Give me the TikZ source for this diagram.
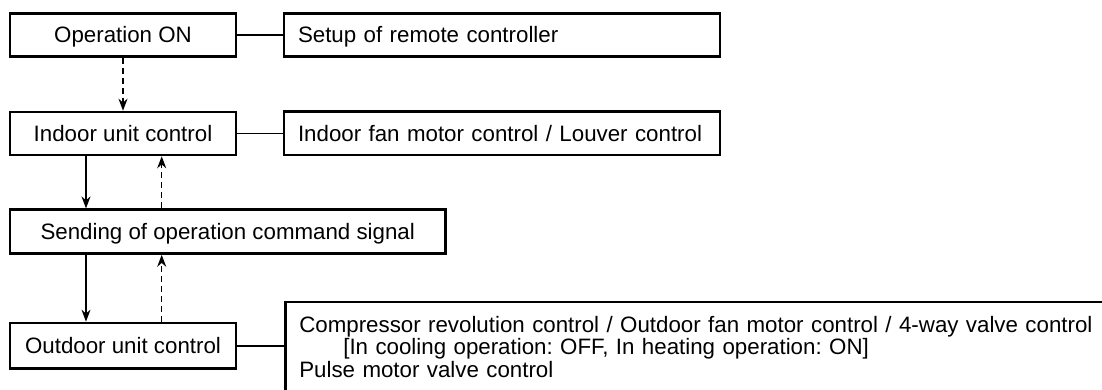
\documentclass[tikz,border=0pt]{standalone}
\usepackage{fontspec}
\setmainfont{Liberation Sans}
\usetikzlibrary{arrows.meta,calc,positioning}
\frenchspacing

\begin{document}
\begin{tikzpicture}[x=1pt,y=-1pt,font=\fontsize{22.3}{22.5}\selectfont,
    >={Stealth[length=12pt,width=9pt]},
    box/.style={draw,line width=2.6pt,text height=16pt,text depth=0pt,inner sep=0pt},
    wide/.style={box,align=left,inner xsep=14pt,text width=408pt,minimum height=43.4pt},
    link/.style={line width=1.5pt},
    flow/.style={->,line width=1.5pt},
    dashline/.style={dash pattern=on 6pt off 4pt}]
  \useasboundingbox (0,0) rectangle (1102,390);
  \node[box,minimum width=226pt,minimum height=43.4pt] (op) at (123,35) {Operation ON};
  \node[wide] (remote) at (502,35) {Setup of remote controller};
  \node[box,minimum width=226pt,minimum height=43pt] (indoor) at (123,133.5) {Indoor unit control};
  \node[wide] (fan) at (502,133.5) {Indoor fan motor control / Louver control};
  \node[box,minimum width=435.3pt,minimum height=43.8pt] (send) at (227.7,231.6) {Sending of operation command signal};
  \node[box,minimum width=226pt,minimum height=45.7pt] (outdoor) at (123,345.8) {Outdoor unit control};
  \node[draw,line width=2.6pt,anchor=north west,align=left,inner xsep=14pt,inner ysep=14pt,text width=820pt] (big) at (284,300.7)
    {Compressor revolution control / Outdoor fan motor control / 4-way valve control\\
     \hspace*{44pt}[In cooling operation: OFF, In heating operation: ON]\\
     Pulse motor valve control};
  \draw[link] (op) -- (remote);
  \draw[link] (indoor) -- (fan);
  \draw[link] (outdoor) -- (outdoor -| big.west);
  \draw[flow,dashline] (op) -- (indoor);
  \draw[flow] ([xshift=-37pt]indoor.south) -- ([xshift=-37pt]indoor.south |- send.north);
  \draw[flow,dashline] ([xshift=38.7pt]indoor.south |- send.north) -- ([xshift=38.7pt]indoor.south);
  \draw[flow] ([xshift=-37pt]outdoor.north |- send.south) -- ([xshift=-37pt]outdoor.north);
  \draw[flow,dashline] ([xshift=38.7pt]outdoor.north) -- ([xshift=38.7pt]outdoor.north |- send.south);
\end{tikzpicture}
\end{document}
